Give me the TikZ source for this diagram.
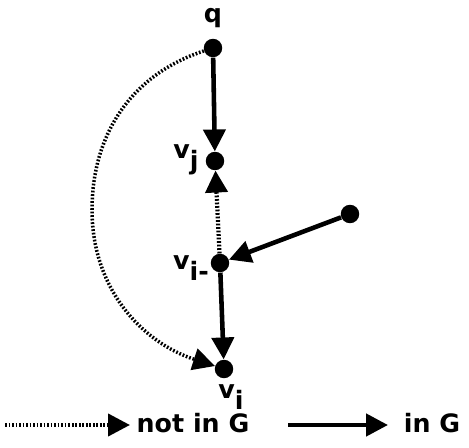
\documentclass[tikz,border=0pt]{standalone}
\usepackage{fontspec}
\setmainfont{DejaVu Sans}
\usetikzlibrary{arrows.meta, positioning}

\newcommand{\lowidx}[1]{\raisebox{-0.75ex}{#1}}

\tikzset{
  vtx/.style={circle, fill=black, inner sep=0pt, minimum size=10.5pt},
  lbl/.style={font=\Large\bfseries, inner sep=1pt},
  ing/.style={line width=2.6pt, -{Triangle[length=12.5pt,width=12.5pt]}},
  notg/.style={line width=2.4pt, dash pattern=on 1pt off 1pt, -{Triangle[length=12.5pt,width=12.5pt]}},
}

\begin{document}
\begin{tikzpicture}[x=0.02cm, y=-0.02cm]
\useasboundingbox (0,0) rectangle (469,448);

% vertices
\node[vtx] (q) at (213,48) {};
\node[vtx] (vj) at (215,161) {};
\node[vtx] (vim) at (220,263) {};
\node[vtx] (vi) at (224,369) {};
\node[vtx] (w) at (350,214) {};

% labels
\node[lbl] (ql) at (213,18) {q};
\node[lbl] (vjl) at (186,160) {v\lowidx{j}};
\node[lbl] (viml) at (191,268) {v\lowidx{i-}};
\node[lbl] (vil) at (231,397) {v\lowidx{i}};

% edges
\draw[ing] (q) -- (vj);
\draw[notg] (vim) -- (vj);
\draw[ing] (w) -- (vim);
\draw[ing] (vim) -- (vi);
\draw[notg, line width=2pt] (q) to[out=198, in=90] (92,210) to[out=270, in=162] (vi);

% legend
\coordinate (d0) at (5,425);
\coordinate (d1) at (130,425);
\coordinate (s0) at (288,425);
\coordinate (s1) at (388,425);
\draw[notg] (d0) -- (d1);
\node[lbl] (notl) at (193,423) {not in G};
\draw[ing] (s0) -- (s1);
\node[lbl] (inl) at (432,423) {in G};

\end{tikzpicture}
\end{document}
